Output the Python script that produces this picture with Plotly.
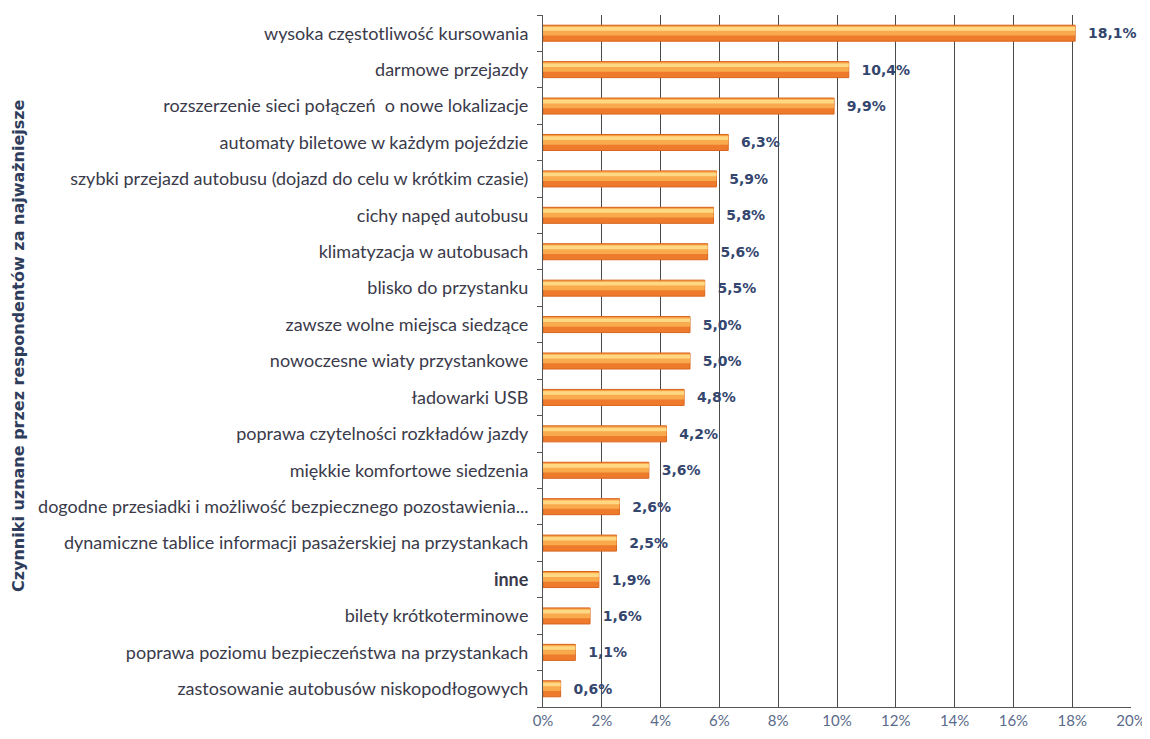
import plotly.graph_objects as go

categories = [
    "wysoka częstotliwość kursowania",
    "darmowe przejazdy",
    "rozszerzenie sieci połączeń  o nowe lokalizacje",
    "automaty biletowe w każdym pojeździe",
    "szybki przejazd autobusu (dojazd do celu w krótkim czasie)",
    "cichy napęd autobusu",
    "klimatyzacja w autobusach",
    "blisko do przystanku",
    "zawsze wolne miejsca siedzące",
    "nowoczesne wiaty przystankowe",
    "ładowarki USB",
    "poprawa czytelności rozkładów jazdy",
    "miękkie komfortowe siedzenia",
    "dogodne przesiadki i możliwość bezpiecznego pozostawienia...",
    "dynamiczne tablice informacji pasażerskiej na przystankach",
    "inne",
    "bilety krótkoterminowe",
    "poprawa poziomu bezpieczeństwa na przystankach",
    "zastosowanie autobusów niskopodłogowych",
]
values = [18.1, 10.4, 9.9, 6.3, 5.9, 5.8, 5.6, 5.5, 5.0, 5.0, 4.8, 4.2, 3.6, 2.6, 2.5, 1.9, 1.6, 1.1, 0.6]
tick_vals = [0, 2, 4, 6, 8, 10, 12, 14, 16, 18, 20]
tick_text = ["0%", "2%", "4%", "6%", "8%", "10%", "12%", "14%", "16%", "18%", "20%"]
bold_categories = ["inne"]

labels = ["\u2002\u2009" + f"{v:.1f}".replace(".", ",") + "%" for v in values]
cat_text = [f"<b>{c}</b>" if c in bold_categories else c for c in categories]

FONT = "Lato"

# The page places the figure 8px from the top-left corner of the window,
# so the figure is sized to fill the rest of the 1150x739 window.
W, H = 1142, 731
PL, PR, PT, PB = 543 - 8, 1131 - 8, 15 - 8, 707 - 8

fig = go.Figure()
fig.add_trace(go.Bar(
    y=categories, x=values, orientation="h",
    width=0.44,
    marker=dict(color="#ee7b2c", line=dict(color="#d8641e", width=1)),
    text=labels, textposition="outside", constraintext="none",
    textfont=dict(family="DejaVu Sans", size=14, color="#34466e", weight="bold"),
    cliponaxis=False, hoverinfo="skip",
))
fig.add_trace(go.Bar(
    y=categories, x=values, orientation="h",
    width=0.26, offset=-0.2,
    marker=dict(color="#f9aa4c", line=dict(width=0)),
    hoverinfo="skip",
))
fig.add_trace(go.Bar(
    y=categories, x=values, orientation="h",
    width=0.1, offset=-0.17,
    marker=dict(color="#ffd884", line=dict(width=0)),
    hoverinfo="skip",
))

fig.update_layout(
    width=W, height=H,
    barmode="overlay",
    showlegend=False,
    plot_bgcolor="white", paper_bgcolor="white",
    margin=dict(l=PL, r=W - PR, t=PT, b=H - PB, autoexpand=False),
    font=dict(family=FONT, color="#333344"),
)
fig.update_xaxes(
    range=[0, 20], tickvals=tick_vals, ticktext=tick_text,
    showgrid=True, gridcolor="#4a4a4a", gridwidth=1,
    showline=True, linecolor="#555555", linewidth=1,
    tickfont=dict(family=FONT, size=15, color="#5a6a8a"), zeroline=False,
    automargin=False, ticklen=0,
)
fig.update_yaxes(
    autorange="reversed",
    tickmode="array", tickvals=categories, ticktext=cat_text,
    showline=True, linecolor="#555555", linewidth=1,
    ticks="outside", ticklen=5, tickcolor="#555555", tickson="boundaries",
    ticklabelstandoff=10,
    showgrid=False,
    tickfont=dict(family=FONT, size=18, color="#3a3a4a"),
    automargin=False,
)
fig.add_annotation(
    text="<b>Czynniki uznane przez respondentów za najważniejsze</b>",
    xref="paper", yref="paper",
    x=(18 - 543) / 588, y=(707 - 346) / 692,
    xanchor="center", yanchor="middle",
    textangle=-90, showarrow=False,
    font=dict(size=16, color="#2f3d5c", family="DejaVu Sans"),
)

fig.write_html("out.html")
